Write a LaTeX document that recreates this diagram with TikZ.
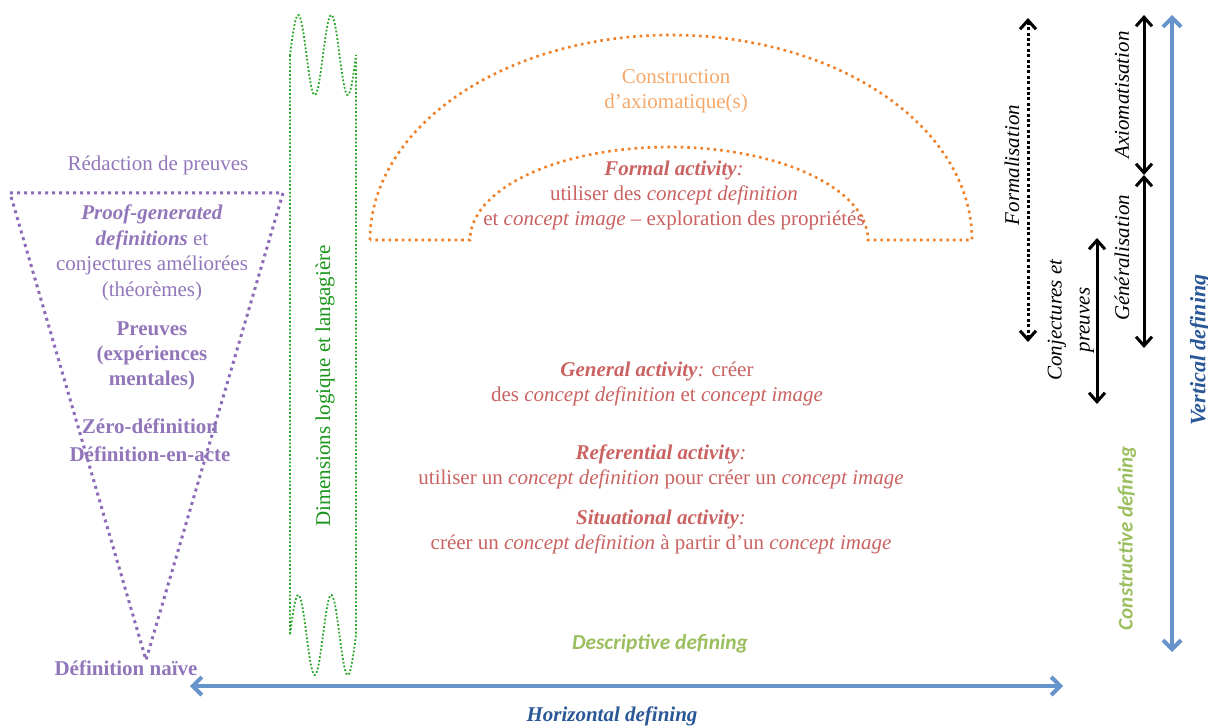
\documentclass[tikz,border=0pt]{standalone}
\usepackage{fontspec}
\setmainfont{Liberation Serif}
\newfontfamily\calibri{Carlito}
\usetikzlibrary{arrows.meta, positioning}
\definecolor{viola}{RGB}{146,118,186}
\definecolor{violascuro}{RGB}{140,108,182}
\definecolor{verde}{RGB}{40,165,40}
\definecolor{verdetesto}{RGB}{25,150,25}
\definecolor{verdechiaro}{RGB}{155,190,95}
\definecolor{arancio}{RGB}{240,128,40}
\definecolor{aranciochiaro}{RGB}{245,168,105}
\definecolor{rosso}{RGB}{202,98,98}
\definecolor{blu}{RGB}{102,148,202}
\definecolor{bluscuro}{RGB}{42,88,150}

\begin{document}
\begin{tikzpicture}[x=0.5pt, y=-0.5pt, font=\fontsize{10.5}{12.5}\selectfont,
    testo/.style={align=center, inner sep=0pt},
    asse/.style={blu, line width=2pt, {Straight Barb[length=4.5pt, width=9pt]}-{Straight Barb[length=4.5pt, width=9pt]}},
    processo/.style={black, line width=1.5pt, {Straight Barb[length=4.5pt, width=8pt]}-{Straight Barb[length=4.5pt, width=8pt]}}]
    % Parametri
    \pgfmathsetmacro{\per}{33}
    \pgfmathsetmacro{\amp}{40}
    \useasboundingbox (0,0) rectangle (1208,726);

    % Triangolo
    \coordinate (tA) at (10,193);
    \coordinate (tB) at (283,193);
    \coordinate (tC) at (146,660);
    \draw[violascuro, dotted, line width=1.5pt] (tA) -- (tB) -- (tC) -- cycle;
    \node[testo, viola] (redaction) at (158,165) {Rédaction de preuves};
    \node[testo, viola, font=\fontsize{10.5}{12.8}\selectfont] (proof) at (152,253) {\textbf{\textit{Proof-generated}}\\\textbf{\textit{definitions}} et\\conjectures améliorées\\(théorèmes)};
    \node[testo, viola, font=\fontsize{10.5}{12.5}\selectfont\bfseries] (preuves) at (152,356) {Preuves\\(expériences\\mentales)};
    \node[testo, viola, font=\fontsize{10.5}{14}\selectfont\bfseries] (zero) at (150,440) {Zéro-définition\\Définition-en-acte};
    \node[testo, viola, font=\fontsize{10.5}{12.5}\selectfont\bfseries] (naive) at (126,668) {Définition naïve};

    % Banda verde
    \draw[verde, densely dotted, line width=0.9pt] (290,55) -- (290,635)
      -- plot[domain=290:356, samples=90] (\x,{635-\amp*sin((\x-290)/\per*360)})
      -- (356,55)
      -- plot[domain=356:290, samples=90] (\x,{55-\amp*sin((\x-290)/\per*360)});
    \node[testo, verdetesto, rotate=90] (dimensions) at (325,386) {Dimensions logique et langagière};

    % Arco
    \draw[arancio, dotted, line width=1.3pt] (370,240)
      -- plot[domain=180:0, samples=90] ({671+301*cos(\x)},{240-205*sin(\x)})
      -- (868,240)
      -- plot[domain=0:180, samples=90] ({669+199*cos(\x)},{240-93*sin(\x)})
      -- cycle;
    \node[testo, aranciochiaro] (construction) at (676,91) {Construction\\d’axiomatique(s)};
    \node[testo, rosso] (formal) at (674,195) {\textbf{\textit{Formal activity}}\textit{:}\\utiliser des \textit{concept definition}\\et \textit{concept image} -- exploration des propriétés};

    % Attività
    \node[testo, rosso] (general) at (657,384) {\textbf{\textit{General activity}}\textit{:} créer\\des \textit{concept definition} et \textit{concept image}};
    \node[testo, rosso] (referential) at (661,467) {\textbf{\textit{Referential activity}}\textit{:}\\utiliser un \textit{concept definition} pour créer un \textit{concept image}};
    \node[testo, rosso] (situational) at (661,532) {\textbf{\textit{Situational activity}}\textit{:}\\créer un \textit{concept definition} à partir d’un \textit{concept image}};

    % Assi
    \coordinate (hL) at (190,686);
    \coordinate (hR) at (1063,686);
    \draw[asse] (hL) -- (hR);
    \node[testo, verdechiaro, font=\fontsize{10.7}{12}\calibri\bfseries\itshape] (descriptive) at (660,644) {Descriptive defining};
    \node[testo, bluscuro, font=\fontsize{10.5}{12}\selectfont\bfseries\itshape] (horizontal) at (612,716) {Horizontal defining};
    \coordinate (vT) at (1172,15);
    \coordinate (vB) at (1172,652);
    \draw[asse] (vT) -- (vB);
    \node[testo, bluscuro, rotate=90, font=\fontsize{11}{12}\selectfont\bfseries\itshape] (vertical) at (1200,350) {Vertical defining};
    \node[testo, verdechiaro, rotate=90, font=\fontsize{10.5}{12}\calibri\bfseries\itshape] (constructive) at (1127,538) {Constructive defining};

    % Processi
    \coordinate (fT) at (1028,18);
    \coordinate (fB) at (1028,342);
    \draw[processo, dash pattern=on 1.5pt off 1.2pt] (fT) -- (fB);
    \node[testo, rotate=90, font=\fontsize{10.5}{12}\selectfont\itshape] (formalisation) at (1012,165) {Formalisation};
    \coordinate (aT) at (1144,15);
    \coordinate (aM) at (1144,175);
    \coordinate (aB) at (1144,348);
    \draw[processo] (aT) -- (aM);
    \draw[processo] (aM) -- (aB);
    \node[testo, rotate=90, font=\fontsize{10.5}{12}\selectfont\itshape] (axiomatisation) at (1122,95) {Axiomatisation};
    \node[testo, rotate=90, font=\fontsize{10.5}{12}\selectfont\itshape] (generalisation) at (1122,258) {Généralisation};
    \coordinate (cT) at (1097,238);
    \coordinate (cB) at (1097,404);
    \draw[processo] (cT) -- (cB);
    \node[testo, rotate=90, font=\fontsize{10.5}{14}\selectfont\itshape] (conjectures) at (1071,320) {Conjectures et\\preuves};
\end{tikzpicture}
\end{document}
